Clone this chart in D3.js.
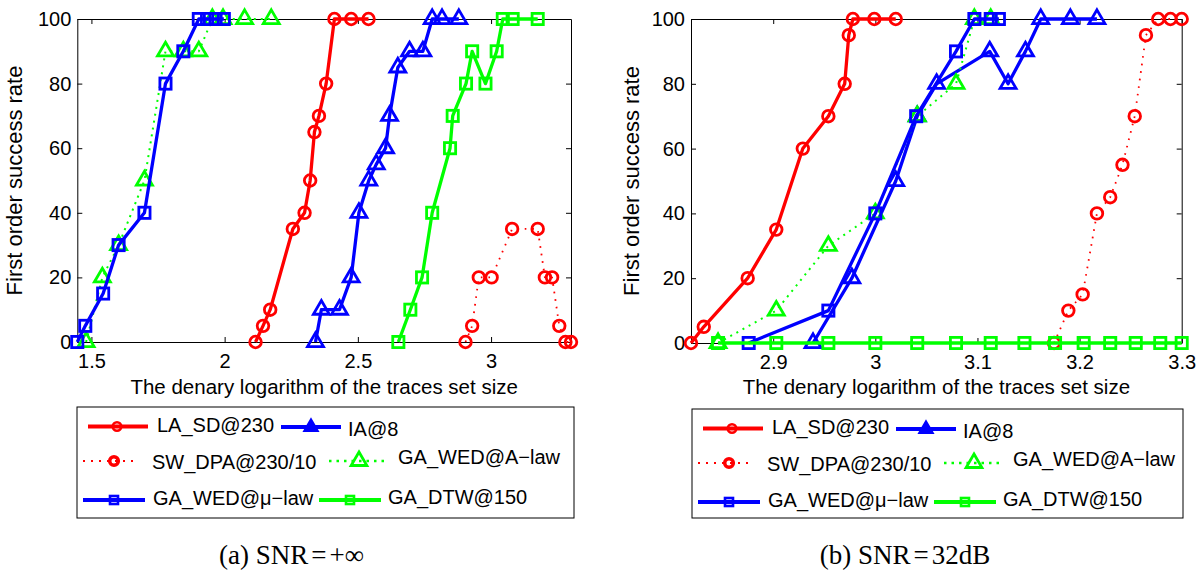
<!DOCTYPE html>
<html><head><meta charset="utf-8">
<script src="https://cdn.jsdelivr.net/npm/d3@7"></script>
<style>
body{margin:0;background:#fff}
svg{display:block}
text{font-family:"Liberation Sans",Arial,Helvetica,sans-serif;fill:#000}
text.cap{font-family:"Liberation Serif","Times New Roman",serif}
</style></head>
<body><svg id="c" width="1198" height="575"></svg>
<script>
// ---------- data ----------
const seriesNames = ["LA_SD@230", "IA@8", "SW_DPA@230/10", "GA_WED@A\u2212law", "GA_WED@\u03bc\u2212law", "GA_DTW@150"];
const yTicks = [0, 20, 40, 60, 80, 100];
const xTicksA = [1.5, 2, 2.5, 3];
const xTicksB = [2.9, 3, 3.1, 3.2, 3.3];
const xTickLabelsA = ["1.5", "2", "2.5", "3"];
const xTickLabelsB = ["2.9", "3", "3.1", "3.2", "3.3"];
const xDomainA = [1.447, 3.3];
const xDomainB = [2.8195, 3.3];

// Panel (a) SNR=+inf
const aLaSdX = [2.116, 2.144, 2.171, 2.256, 2.300, 2.321, 2.337, 2.354, 2.381, 2.412, 2.475, 2.540];
const aLaSdY = [0, 5, 10, 35, 40, 50, 65, 70, 80, 100, 100, 100];
const aIaX = [2.341, 2.363, 2.431, 2.475, 2.504, 2.541, 2.569, 2.604, 2.619, 2.650, 2.694, 2.744, 2.779, 2.816, 2.879];
const aIaY = [0, 10, 10, 20, 40, 50, 55, 60, 70, 85, 90, 90, 100, 100, 100];
const aSwX = [2.904, 2.929, 2.954, 3.002, 3.079, 3.175, 3.202, 3.229, 3.256, 3.279, 3.300];
const aSwY = [0, 5, 20, 20, 35, 35, 20, 20, 5, 0, 0];
const aGaAX = [1.480, 1.541, 1.602, 1.699, 1.778, 1.845, 1.903, 1.954, 1.994, 2.075, 2.175];
const aGaAY = [0, 20, 30, 50, 90, 90, 90, 100, 100, 100, 100];
const aGaMuX = [1.447, 1.477, 1.544, 1.602, 1.699, 1.778, 1.845, 1.903, 1.934, 1.966, 1.997];
const aGaMuY = [0, 5, 15, 30, 40, 80, 90, 100, 100, 100, 100];
const aDtwX = [2.652, 2.697, 2.741, 2.779, 2.846, 2.856, 2.906, 2.929, 2.979, 3.021, 3.044, 3.081, 3.175];
const aDtwY = [0, 10, 20, 40, 60, 70, 80, 90, 80, 90, 100, 100, 100];

// Panel (b) SNR=32dB
const bLaSdX = [2.8195, 2.832, 2.875, 2.903, 2.929, 2.954, 2.970, 2.974, 2.978, 2.999, 3.020];
const bLaSdY = [0, 5, 20, 35, 60, 70, 80, 95, 100, 100, 100];
const bIaX = [2.939, 2.977, 3.020, 3.041, 3.060, 3.112, 3.130, 3.147, 3.162, 3.191, 3.217];
const bIaY = [0, 20, 50, 70, 80, 90, 80, 90, 100, 100, 100];
const bSwX = [3.175, 3.189, 3.203, 3.217, 3.230, 3.242, 3.254, 3.265, 3.277, 3.289, 3.300];
const bSwY = [0, 10, 15, 40, 45, 55, 70, 95, 100, 100, 100];
const bGaAX = [2.846, 2.903, 2.954, 3.000, 3.041, 3.079, 3.097, 3.113];
const bGaAY = [0, 10, 30, 40, 70, 80, 100, 100];
const bGaMuX = [2.876, 2.954, 3.000, 3.040, 3.079, 3.097, 3.113, 3.121];
const bGaMuY = [0, 10, 40, 70, 90, 100, 100, 100];
const bDtwX = [2.846, 2.903, 2.954, 3.000, 3.041, 3.079, 3.113, 3.146, 3.176, 3.204, 3.230, 3.255, 3.279, 3.300];
const bDtwY = [0, 0, 0, 0, 0, 0, 0, 0, 0, 0, 0, 0, 0, 0];

// ---------- styles ----------
const styles = [
  {color: "#ff0000", dash: null, width: 3.3, marker: "circle"},
  {color: "#0000ff", dash: null, width: 3.3, marker: "triangle"},
  {color: "#ff0000", dash: "1.6 6", width: 1.8, marker: "circle"},
  {color: "#00ff00", dash: "2 5", width: 2, marker: "triangle"},
  {color: "#0000ff", dash: null, width: 3.3, marker: "square"},
  {color: "#00ff00", dash: null, width: 3.3, marker: "square"}
];

const svg = d3.select("#c");

function drawMarker(g, type, x, y, color, size, sw, fill) {
  if (type === "circle") {
    g.append("circle").attr("cx", x).attr("cy", y).attr("r", size)
      .attr("fill", fill || "none").attr("stroke", color).attr("stroke-width", sw);
  } else if (type === "square") {
    g.append("rect").attr("x", x - size).attr("y", y - size)
      .attr("width", 2 * size).attr("height", 2 * size)
      .attr("fill", fill || "none").attr("stroke", color).attr("stroke-width", sw);
  } else {
    const h = size * 1.8, w = size * 2.1;
    const p = `M${x},${y - h * 2 / 3}L${x + w / 2},${y + h / 3}L${x - w / 2},${y + h / 3}Z`;
    g.append("path").attr("d", p).attr("fill", fill || "none")
      .attr("stroke", color).attr("stroke-width", sw).attr("stroke-linejoin", "miter");
  }
}

function panel(cfg) {
  const x = d3.scaleLinear().domain(cfg.xDomain).range([cfg.left, cfg.right]);
  const y = d3.scaleLinear().domain([0, 100]).range([cfg.bottom, cfg.top]);
  const g = svg.append("g");

  // axes (ticks inward, MATLAB box)
  const bx = d3.axisBottom(x).tickValues(cfg.xTicks).tickFormat((d, i) => cfg.xLabels[i])
    .tickSizeInner(-5).tickSizeOuter(0).tickPadding(12);
  const tx = d3.axisTop(x).tickValues(cfg.xTicks).tickFormat("").tickSizeInner(-5).tickSizeOuter(0);
  const ly = d3.axisLeft(y).tickValues(yTicks).tickFormat(d3.format("d"))
    .tickSizeInner(-5).tickSizeOuter(0).tickPadding(6);
  const ry = d3.axisRight(y).tickValues(yTicks).tickFormat("").tickSizeInner(-5).tickSizeOuter(0);

  g.append("g").attr("transform", `translate(0,${cfg.bottom})`).call(bx);
  g.append("g").attr("transform", `translate(0,${cfg.top})`).call(tx);
  g.append("g").attr("transform", `translate(${cfg.left},0)`).call(ly);
  g.append("g").attr("transform", `translate(${cfg.right},0)`).call(ry);
  g.selectAll(".domain").attr("stroke", "#000").attr("stroke-width", 1);
  g.selectAll(".tick line").attr("stroke", "#000");
  g.selectAll(".tick text").attr("font-family", "Liberation Sans, Arial, sans-serif")
    .attr("font-size", 20).attr("fill", "#000");

  // axis labels
  g.append("text").attr("x", (cfg.left + cfg.right) / 2).attr("y", 394)
    .attr("text-anchor", "middle").attr("font-size", 20.5)
    .text("The denary logarithm of the traces set size");
  g.append("text").attr("transform", `translate(${cfg.ylabX},${(cfg.top + cfg.bottom) / 2}) rotate(-90)`)
    .attr("text-anchor", "middle").attr("font-size", 22)
    .text("First order success rate");

  // series
  const line = d3.line().x(d => x(d[0])).y(d => y(d[1]));
  cfg.series.forEach((s, i) => {
    const st = styles[i];
    const pts = s.x.map((v, j) => [v, s.y[j]]);
    const path = g.append("path").datum(pts).attr("d", line)
      .attr("fill", "none").attr("stroke", st.color).attr("stroke-width", st.width)
      .attr("stroke-linejoin", "round");
    if (st.dash) path.attr("stroke-dasharray", st.dash);
    const mg = g.append("g");
    const size = st.marker === "circle" ? 5.8 : (st.marker === "square" ? 5.6 : 7.6);
    pts.forEach(p => drawMarker(mg, st.marker, x(p[0]), y(p[1]), st.color, size, 2.8));
  });

  // legend
  const L = cfg.legend;
  g.append("rect").attr("x", L.x).attr("y", L.y).attr("width", L.w).attr("height", L.h)
    .attr("fill", "#fff").attr("stroke", "#000").attr("stroke-width", 1);
  const ent = [
    {l0: 11, l1: 71, mk: 40, tx: 80, ly: 19.5, ty: 24.5, size: 4.2, sw: 2.6, lw: 4, fill: null},
    {l0: 204, l1: 264, mk: 234, tx: 271, ly: 20, ty: 29, size: 6, sw: 2.6, lw: 4, fill: "#0000ff"},
    {l0: 6, l1: 62, mk: 37, tx: 75, ly: 54, ty: 61.5, size: 4.3, sw: 3.6, lw: 2.2, fill: null},
    {l0: 252, l1: 307, mk: 282, tx: 321, ly: 54, ty: 57, size: 7.5, sw: 2.8, lw: 2.4, fill: null},
    {l0: 6, l1: 68, mk: 37, tx: 76, ly: 93, ty: 98, size: 4, sw: 2.6, lw: 4, fill: null},
    {l0: 242, l1: 304, mk: 273, tx: 311, ly: 93, ty: 97, size: 4, sw: 2.6, lw: 4, fill: null}
  ];
  seriesNames.forEach((name, i) => {
    const e = ent[i], st = styles[i];
    const ln = g.append("line").attr("x1", L.x + e.l0).attr("x2", L.x + e.l1)
      .attr("y1", L.y + e.ly).attr("y2", L.y + e.ly)
      .attr("stroke", st.color).attr("stroke-width", e.lw);
    if (st.dash) ln.attr("stroke-dasharray", st.dash === "2 5" ? "2.5 5" : "2 6");
    drawMarker(g, st.marker, L.x + e.mk, L.y + e.ly, st.color, e.size, e.sw, e.fill);
    g.append("text").attr("x", L.x + e.tx).attr("y", L.y + e.ty).attr("font-size", 20).text(name);
  });

  // caption
  const cap = g.append("text").attr("class", "cap").attr("x", cfg.capX).attr("y", 564)
    .attr("text-anchor", "middle").attr("font-size", 27);
  cap.append("tspan").text(cfg.cap[0]);
  cap.append("tspan").attr("dx", 3).text("=");
  cap.append("tspan").attr("dx", 3).text(cfg.cap[1]);
}

panel({
  left: 77.3, right: 571, top: 19, bottom: 342, xDomain: xDomainA,
  xTicks: xTicksA, xLabels: xTickLabelsA, ylabX: 22,
  series: [
    {x: aLaSdX, y: aLaSdY}, {x: aIaX, y: aIaY}, {x: aSwX, y: aSwY},
    {x: aGaAX, y: aGaAY}, {x: aGaMuX, y: aGaMuY}, {x: aDtwX, y: aDtwY}
  ],
  legend: {x: 77, y: 407, w: 497, h: 111},
  capX: 291.5, cap: ["(a) SNR", "+\u221e"]
});
panel({
  left: 691, right: 1181.7, top: 19, bottom: 343, xDomain: xDomainB,
  xTicks: xTicksB, xLabels: xTickLabelsB, ylabX: 638.5,
  series: [
    {x: bLaSdX, y: bLaSdY}, {x: bIaX, y: bIaY}, {x: bSwX, y: bSwY},
    {x: bGaAX, y: bGaAY}, {x: bGaMuX, y: bGaMuY}, {x: bDtwX, y: bDtwY}
  ],
  legend: {x: 692, y: 409, w: 491, h: 109},
  capX: 905, cap: ["(b) SNR", "32dB"]
});
</script></body></html>
